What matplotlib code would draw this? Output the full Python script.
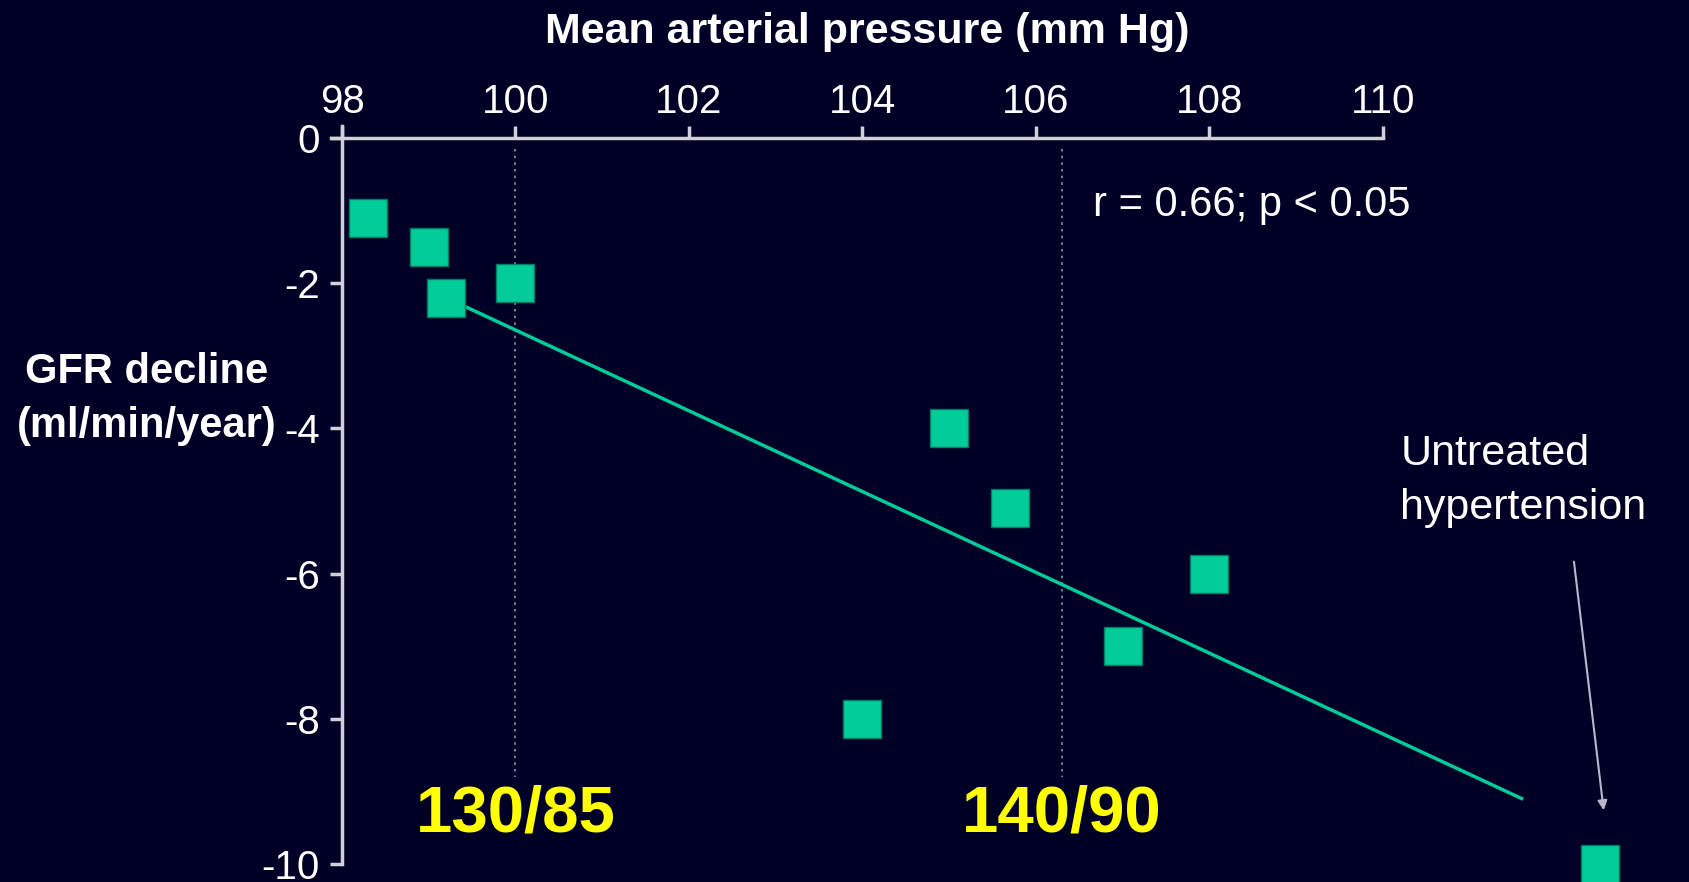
import matplotlib.pyplot as plt
import numpy as np

# mean arterial pressure (mm Hg) vs GFR decline (ml/min/year)
map_values = [98.3, 99.0, 99.2, 100.0, 105.0, 105.7, 104.0, 108.0, 107.0, 112.5]
gfr_decline = [-1.1, -1.5, -2.2, -2.0, -4.0, -5.1, -8.0, -6.0, -7.0, -10.0]

# fitted line end points, as drawn in the figure
fit_x = [99.2, 111.6]
fit_y = [-2.2, -9.1]

x_ticks = [98, 100, 102, 104, 106, 108, 110]
y_ticks = [0, -2, -4, -6, -8, -10]

bp_marks = [100.0, 106.3]
bp_labels = ["130/85", "140/90"]

BG = "#000026"
TEAL = "#00CC99"
AXIS = "#D0D0D8"

plt.rcParams["font.family"] = ["Liberation Sans", "DejaVu Sans"]

fig = plt.figure(figsize=(16.89, 8.82), dpi=100, facecolor=BG)
ax = fig.add_axes([342 / 1689, 0.0, 1 - 342 / 1689, 1 - 138 / 882])
ax.set_facecolor(BG)
ax.set_xlim(98, 113.53)
ax.set_ylim(-10.25, 0)

for name in ["bottom", "right"]:
    ax.spines[name].set_visible(False)
ax.spines["top"].set_color(AXIS)
ax.spines["left"].set_color(AXIS)
ax.spines["top"].set_linewidth(2.5)
ax.spines["left"].set_linewidth(2.5)
ax.spines["top"].set_bounds(97.87, 110)
ax.spines["left"].set_bounds(-10, 0.17)

ax.xaxis.tick_top()
ax.set_xticks(x_ticks)
ax.set_yticks(y_ticks)
ax.set_yticklabels([str(v) for v in y_ticks])
ax.tick_params(axis="x", colors=AXIS, length=9, width=2.5, direction="out",
               labelsize=29, labelcolor="white", pad=3)
ax.tick_params(axis="y", colors=AXIS, length=9, width=2.5, direction="out",
               labelsize=29, labelcolor="white", pad=7)

for xv in bp_marks:
    ax.plot([xv, xv], [-0.15, -8.8], color="#9090A8", linestyle=(0, (1.5, 2.5)),
            linewidth=1.2)

ax.plot(fit_x, fit_y, color=TEAL, linewidth=2.5)
ax.scatter(map_values, gfr_decline, marker="s", s=720, color=TEAL,
           edgecolors="#007A60", linewidths=1.0, zorder=5, clip_on=False)

for xv, label in zip(bp_marks, bp_labels):
    ax.text(xv, -9.32, label, color="#FFFF00", fontsize=47, fontweight="bold",
            ha="center", va="center")

ax.text(106.66, -0.92, "r = 0.66; p < 0.05", color="white", fontsize=30,
        ha="left", va="center")
ax.text(110.2, -4.72, "Untreated\nhypertension", color="white", fontsize=31,
        ha="left", va="center", linespacing=1.45)
ax.annotate("", xy=(112.55, -9.3), xytext=(112.2, -5.8),
            arrowprops=dict(arrowstyle="-|>", color="#B8B8C8", lw=1.5,
                            mutation_scale=14))

fig.text(867 / 1689, 1 - 32 / 882, "Mean arterial pressure (mm Hg)",
         color="white", fontsize=31, fontweight="bold", ha="center", va="center")
fig.text(147 / 1689, 1 - 399 / 882, "GFR decline\n(ml/min/year)",
         color="white", fontsize=30, fontweight="bold", ha="center", va="center",
         linespacing=1.45)

fig.savefig("out.png", dpi=100, facecolor=BG)
